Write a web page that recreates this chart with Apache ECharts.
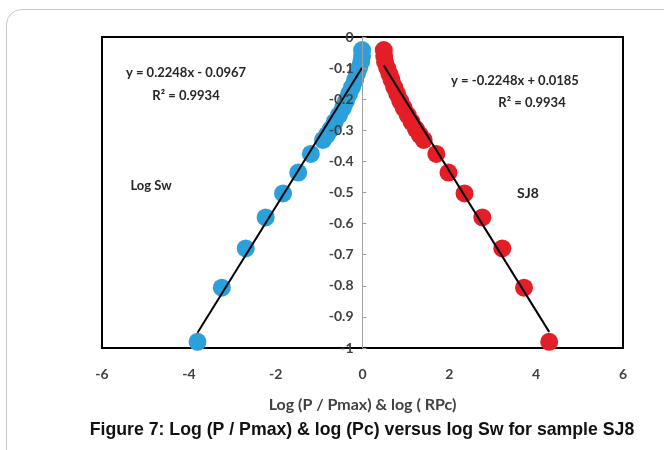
<!DOCTYPE html>
<html>
<head>
<meta charset="utf-8">
<script src="https://cdn.jsdelivr.net/npm/echarts@6/dist/echarts.min.js"></script>
<style>html,body{margin:0;padding:0;background:#fff}#c{width:664px;height:450px}</style>
</head>
<body>
<div id="c"></div>
<script>
// Log Sw values (shared by both series)
const logSw = [-0.042,-0.061,-0.080,-0.100,-0.119,-0.138,-0.161,-0.183,-0.206,-0.228,-0.251,-0.273,-0.296,-0.315,-0.331,-0.376,-0.436,-0.503,-0.580,-0.680,-0.806,-0.980];
// Log (P / Pmax)
const logPPmax = [-0.01,-0.01,-0.03,-0.08,-0.13,-0.17,-0.24,-0.31,-0.38,-0.45,-0.54,-0.64,-0.73,-0.82,-0.91,-1.19,-1.48,-1.83,-2.23,-2.69,-3.24,-3.80];
// log (RPc)
const logRPc = [0.49,0.50,0.52,0.57,0.62,0.67,0.73,0.80,0.87,0.95,1.04,1.13,1.23,1.32,1.41,1.70,1.98,2.35,2.76,3.22,3.72,4.30];
// Trendline parameters
const blueSlope = 0.2248, blueIntercept = -0.0967;
const redSlope = -0.2248, redIntercept = 0.0185;
const xTicks = [-6,-4,-2,0,2,4,6];
const yTicks = [0,-0.1,-0.2,-0.3,-0.4,-0.5,-0.6,-0.7,-0.8,-0.9,-1];

const blueData = logPPmax.map((x,i)=>[x,logSw[i]]);
const redData = logRPc.map((x,i)=>[x,logSw[i]]);
const bMin = Math.min(...logPPmax), bMax = Math.max(...logPPmax);
const rMin = Math.min(...logRPc), rMax = Math.max(...logRPc);
const blueLine = [[bMin, blueSlope*bMin+blueIntercept],[bMax, blueSlope*bMax+blueIntercept]];
const redLine = [[rMin, redSlope*rMin+redIntercept],[rMax, redSlope*rMax+redIntercept]];

const W = 664, GL = 102, GR = 41;
const xMin = xTicks[0], xMax = xTicks[xTicks.length-1];
const yOffset = -((W-GL-GR) * (0 - xMin) / (xMax - xMin));

const F = 'Lato, "Open Sans", sans-serif';
const chart = echarts.init(document.getElementById('c'));
chart.setOption({
  animation:false,
  backgroundColor:'#fff',
  grid:{left:GL,right:GR,top:37,bottom:102,show:true,borderColor:'#000',borderWidth:2,backgroundColor:'transparent'},
  xAxis:{type:'value',min:xMin,max:xMax,interval:2,position:'bottom',
    axisLine:{show:false},axisTick:{show:false},splitLine:{show:false},
    axisLabel:{margin:19,color:'#404040',fontFamily:F,fontWeight:'bold',fontSize:14},
    name:'Log (P / Pmax) & log ( RPc)',nameLocation:'middle',nameGap:49,
    nameTextStyle:{color:'#404040',fontFamily:F,fontWeight:'bold',fontSize:16}},
  yAxis:{type:'value',min:yTicks[yTicks.length-1],max:yTicks[0],interval:0.1,offset:yOffset,z:5,
    axisLine:{show:true,onZero:false,lineStyle:{color:'#a0a0a0',width:1}},
    axisTick:{show:true,inside:true,length:4,lineStyle:{color:'#a0a0a0'}},
    splitLine:{show:false},
    axisLabel:{margin:9,color:'#404040',fontFamily:F,fontWeight:'bold',fontSize:14,
      formatter:v=>String(Math.round(v*10)/10)}},
  series:[
    {type:'scatter',data:blueData,symbolSize:18,itemStyle:{color:'#2ca0da',opacity:1},z:2},
    {type:'scatter',data:redData,symbolSize:18,itemStyle:{color:'#e41e26',opacity:1},z:2},
    {type:'line',data:blueLine,symbol:'none',lineStyle:{color:'#000',width:2},z:3},
    {type:'line',data:redLine,symbol:'none',lineStyle:{color:'#000',width:2},z:3}
  ],
  graphic:[
    {type:'rect',shape:{x:6.5,y:9.5,width:720,height:520,r:15},style:{fill:'none',stroke:'#c8c8c8',lineWidth:1},z:-1},
    {type:'text',x:186,y:73,style:{text:'y = 0.2248x - 0.0967',fill:'#262626',font:'bold 13px '+F,textAlign:'center',textVerticalAlign:'middle'}},
    {type:'text',x:186,y:96,style:{text:'R² = 0.9934',fill:'#262626',font:'bold 13px '+F,textAlign:'center',textVerticalAlign:'middle'}},
    {type:'text',x:515,y:81,style:{text:'y = -0.2248x + 0.0185',fill:'#262626',font:'bold 13px '+F,textAlign:'center',textVerticalAlign:'middle'}},
    {type:'text',x:532,y:103,style:{text:'R² = 0.9934',fill:'#262626',font:'bold 13px '+F,textAlign:'center',textVerticalAlign:'middle'}},
    {type:'text',x:151,y:186,style:{text:'Log Sw',fill:'#262626',font:'bold 13px '+F,textAlign:'center',textVerticalAlign:'middle'}},
    {type:'text',x:528,y:193,style:{text:'SJ8',fill:'#262626',font:'bold 14px '+F,textAlign:'center',textVerticalAlign:'middle'}},
    {type:'text',x:362,y:430,style:{text:'Figure 7: Log (P / Pmax) & log (Pc) versus log Sw for sample SJ8',fill:'#111',font:'bold 17.7px "Liberation Sans", Arial, sans-serif',textAlign:'center',textVerticalAlign:'middle'}}
  ]
});
</script>
</body>
</html>
